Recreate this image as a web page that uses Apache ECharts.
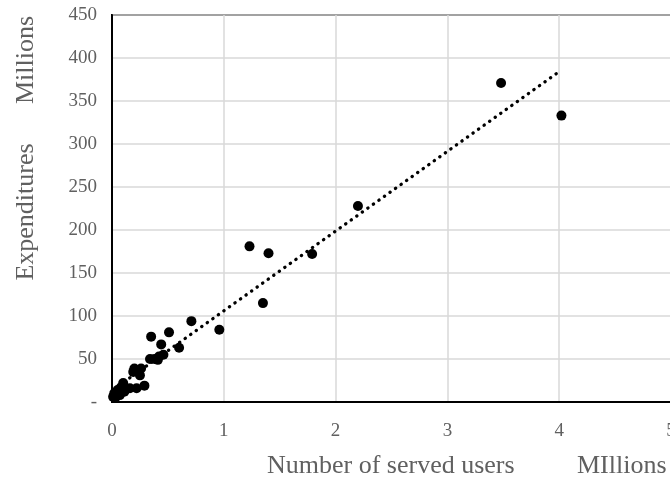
<!DOCTYPE html>
<html><head><meta charset="utf-8">
<script src="https://cdn.jsdelivr.net/npm/echarts@6/dist/echarts.min.js"></script>
<style>html,body{margin:0;padding:0;background:#fff}#c{width:670px;height:481px}</style>
</head><body><div id="c"></div>
<script>
// Number of served users (millions)
const usersM = [3.48, 4.02, 2.20, 1.79, 1.40, 1.23, 1.35, 0.96, 0.71, 0.60, 0.51, 0.46, 0.44, 0.41, 0.35, 0.34, 0.42, 0.38, 0.23, 0.19, 0.26, 0.25, 0.22, 0.29, 0.16, 0.10, 0.08, 0.05, 0.02, 0.01, 0.07, 0.11, 0.04, 0.03, 0.20];
// Expenditures (millions)
const expendM = [371, 333, 228, 172, 173, 181, 115, 84, 94, 63, 81, 55, 67, 49, 76, 50, 53, 50, 37, 35, 39, 31, 16, 19, 16, 22, 17, 14, 10, 6, 8, 12, 9, 5, 39];
const xTicks = [0, 1, 2, 3, 4, 5];
const yTicks = [0, 50, 100, 150, 200, 250, 300, 350, 400, 450];

// linear least-squares trendline
const n = usersM.length;
let sx=0, sy=0, sxx=0, sxy=0;
for (let i=0;i<n;i++){sx+=usersM[i];sy+=expendM[i];sxx+=usersM[i]*usersM[i];sxy+=usersM[i]*expendM[i];}
const slope=(n*sxy-sx*sy)/(n*sxx-sx*sx), icpt=(sy-slope*sx)/n;
const xmin=Math.min(...usersM), xmax=Math.max(...usersM);
const trend=[[xmin, icpt+slope*xmin],[xmax, icpt+slope*xmax]];

const gray='#606060', font='"Liberation Serif", "DejaVu Serif", serif';
const chart = echarts.init(document.getElementById('c'), null, {renderer:'canvas'});
chart.setOption({
  animation:false,
  grid:{left:112, top:15, width:559, height:387, show:true, borderColor:'#000', borderWidth:2,
        backgroundColor:'transparent', containLabel:false, outerBoundsMode:'none'},
  xAxis:{type:'value', min:xTicks[0], max:xTicks[xTicks.length-1], interval:1,
    axisLine:{show:true, onZero:false, lineStyle:{color:'#000', width:2}}, axisTick:{show:false},
    splitLine:{show:true, lineStyle:{color:'#d9d9d9', width:1.5}},
    axisLabel:{color:gray, fontFamily:font, fontSize:19, margin:20, showMaxLabel:true, hideOverlap:false}},
  yAxis:{type:'value', min:yTicks[0], max:yTicks[yTicks.length-1], interval:50,
    axisLine:{show:true, lineStyle:{color:'#000', width:2}}, axisTick:{show:false},
    splitLine:{show:true, lineStyle:{color:'#d9d9d9', width:1.5}},
    axisLabel:{color:gray, fontFamily:font, fontSize:19, margin:15, formatter:v=>v===0?'-':String(v)}},
  graphic:[
    {type:'text', left:267, top:453, style:{text:'Number of served users', fill:gray, font:'26px '+font}},
    {type:'text', left:577, top:453, style:{text:'MIllions', fill:gray, font:'26px '+font}},
    {type:'text', x:26, y:212, rotation:Math.PI/2, style:{text:'Expenditures', fill:gray, font:'26px '+font, align:'center', verticalAlign:'middle'}},
    {type:'text', x:26, y:60, rotation:Math.PI/2, style:{text:'Millions', fill:gray, font:'26px '+font, align:'center', verticalAlign:'middle'}}
  ],
  series:[
    {type:'line', data:trend, showSymbol:false, symbol:'none', silent:true,
     lineStyle:{color:'#000', width:3.3, type:[0.3,6.5], cap:'round'}, z:2},
    {type:'scatter', data:usersM.map((x,i)=>[x,expendM[i]]), symbol:'circle', symbolSize:10,
     itemStyle:{color:'#000', opacity:1}, z:3}
  ]
});
</script></body></html>
